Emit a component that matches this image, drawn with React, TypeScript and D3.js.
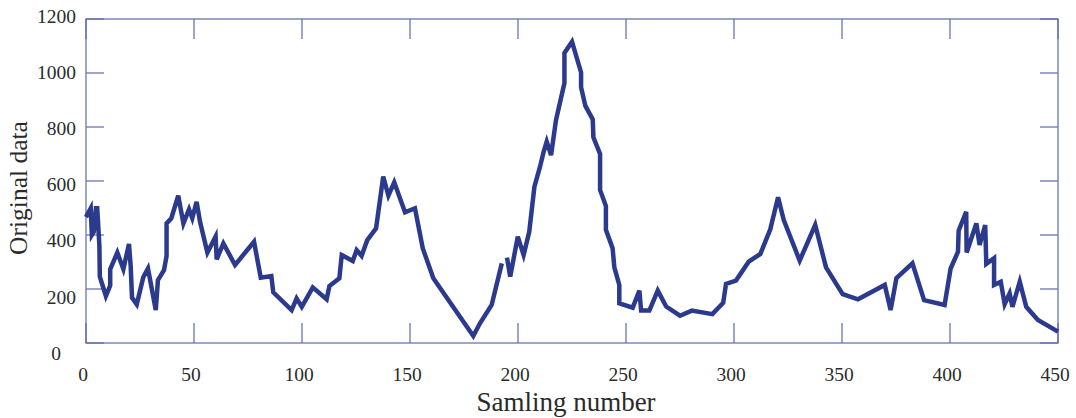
import React from "react";
import * as d3 from "d3";

// Sampling numbers (x) and original data values (y); null marks the gap in the record
const samples: number[] = [
  0, 2.2, 2.7, 3.6, 4.6, 5.2, 6.2, 6.4, 9.2, 11.2, 11.2, 14.5, 17.3, 19.9, 20.7, 21.3, 23.5,
  26.5, 28.7, 32.3, 33.3, 36.1, 37.3, 37.3, 39.5, 42.7, 45.1, 47.7, 49.2, 51.2, 52.8, 56.2,
  60.0, 60.5, 63.6, 69.0, 77.8, 80.9, 85.8, 86.7, 95.2, 97.5, 99.9, 105.0, 111.4, 112.7,
  117.3, 118.4, 123.5, 125.3, 127.6, 130.2, 134.3, 137.6, 140.0, 142.7, 147.7, 152.3, 155.9,
  160.8, 179.3, 182.4, 187.8, 192.5, 193.7, 194.9, 196.4, 199.9, 202.6, 205.2, 207.6, 210.2,
  211.9, 213.3, 215.3, 217.6, 221.5, 221.5, 225.0, 229.2, 229.2, 231.2, 234.6, 234.9, 238.0,
  238.0, 240.7, 240.7, 243.8, 244.6, 246.9, 246.9, 253.1, 256.2, 257.0, 260.8, 264.7, 268.6,
  275.0, 280.5, 290.0, 295.0, 296.3, 300.9, 306.8, 312.2, 316.8, 320.4, 323.0, 330.4, 337.6,
  342.6, 350.3, 357.4, 369.8, 372.5, 375.2, 382.6, 388.0, 397.5, 400.3, 403.7, 404.0, 407.5,
  407.7, 412.2, 413.7, 416.3, 416.8, 420.4, 420.4, 423.5, 425.3, 427.6, 428.9, 432.3, 435.3,
  440.7, 450.0,
];
const values: (number | null)[] = [
  466, 499, 400, 412, 499, 499, 360, 246, 174, 213, 273, 335, 274, 367, 283, 168, 143,
  243, 276, 122, 233, 270, 322, 443, 462, 546, 443, 495, 462, 523, 449, 335,
  394, 310, 369, 289, 375, 242, 248, 188, 122, 165, 134, 206, 162, 211,
  240, 326, 304, 344, 323, 381, 425, 616, 546, 595, 484, 499, 351,
  240, 26, 73, 141, 295, null, 316, 246, 394, 326, 412, 579, 653,
  709, 746, 696, 826, 963, 1074, 1116, 1002, 947, 878, 828, 762, 700,
  567, 507, 419, 351, 280, 215, 147, 131, 194, 120, 120, 194, 135,
  101, 120, 107, 149, 219, 231, 301, 330, 421, 540, 456, 305, 437,
  280, 181, 162, 215, 122, 240, 295, 159, 141, 276, 338, 416, 486,
  335, 443, 363, 437, 293, 314, 215, 227, 144, 184, 134, 227, 134,
  85, 42,
];

const xTicks: number[] = [0, 50, 100, 150, 200, 250, 300, 350, 400, 450];
const yTicks: number[] = [0, 200, 400, 600, 800, 1000, 1200];
const xTitle = "Samling number";
const yTitle = "Original data";

const W = 1076;
const H = 418;
const M = { left: 86, right: 1058, top: 19, bottom: 343 };
const AXIS = "#5e69ad";
const LINE = "#2b3a8c";
const TEXT = "#2a2a2a";
const FONT = "'Liberation Serif', 'Times New Roman', serif";

export default function App() {
  const x = d3.scaleLinear().domain([0, 450]).range([M.left, M.right]);
  const y = d3.scaleLinear().domain([0, 1200]).range([M.bottom, M.top]);
  const yLab = d3.scaleLinear().domain([0, 1200]).range([353, 16]);

  const data = samples.map((s, i) => ({ s, v: values[i] }));
  const line = d3
    .line<{ s: number; v: number | null }>()
    .defined((d) => d.v != null)
    .x((d) => x(d.s))
    .y((d) => y(d.v as number));

  const xt = 20;
  const yt = 18;

  return (
    <svg
      width={W}
      height={H}
      style={{ position: "absolute", left: 0, top: 0, background: "#fff" }}
      fontFamily={FONT}
    >
      <rect x={0} y={0} width={W} height={H} fill="#fff" />
      {/* frame */}
      <rect
        x={M.left}
        y={M.top}
        width={M.right - M.left}
        height={M.bottom - M.top}
        fill="none"
        stroke={AXIS}
        strokeWidth={1.2}
      />
      {/* x ticks, bottom and top */}
      {xTicks.map((t) => (
        <g key={"xt" + t}>
          <line x1={x(t)} x2={x(t)} y1={M.bottom} y2={M.bottom - xt} stroke={AXIS} strokeWidth={1.2} />
          <line x1={x(t)} x2={x(t)} y1={M.top} y2={M.top + xt} stroke={AXIS} strokeWidth={1.2} />
          <text x={x(t) - 3} y={381} textAnchor="middle" fontSize={19.5} fill={TEXT}>
            {t}
          </text>
        </g>
      ))}
      {/* y ticks, left and right */}
      {yTicks.map((t) => (
        <g key={"yt" + t}>
          <line x1={M.left} x2={M.left + yt} y1={y(t)} y2={y(t)} stroke={AXIS} strokeWidth={1.2} />
          <line x1={M.right} x2={M.right - yt} y1={y(t)} y2={y(t)} stroke={AXIS} strokeWidth={1.2} />
          <text
            x={t === 0 ? 61 : 76}
            y={yLab(t)}
            dy="0.35em"
            textAnchor="end"
            fontSize={19.5}
            fill={TEXT}
          >
            {t}
          </text>
        </g>
      ))}
      {/* data line */}
      <path d={line(data) || ""} fill="none" stroke={LINE} strokeWidth={4.5} strokeLinejoin="miter" />
      {/* axis titles */}
      <text x={566} y={411} textAnchor="middle" fontSize={27} fill={TEXT}>
        {xTitle}
      </text>
      <text
        transform={`translate(27, 188) rotate(-90)`}
        textAnchor="middle"
        fontSize={25.5}
        fill={TEXT}
      >
        {yTitle}
      </text>
    </svg>
  );
}
